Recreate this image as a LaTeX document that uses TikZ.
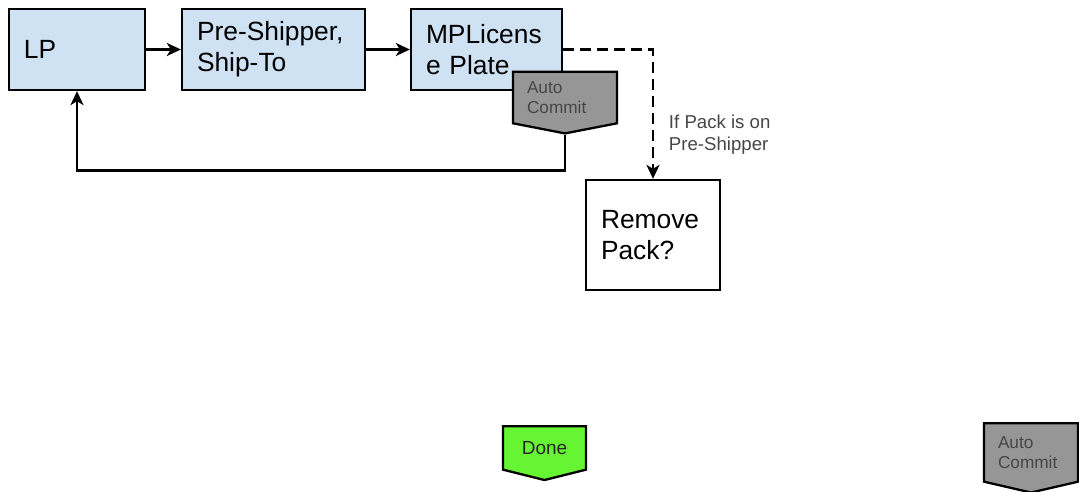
\documentclass[tikz,border=0pt]{standalone}
\usepackage{fontspec}
\setmainfont{Liberation Sans}
\usepackage{tikz}
\usetikzlibrary{shapes.symbols,arrows.meta,positioning,calc}
\usepackage{xcolor}
\definecolor{boxblue}{RGB}{207,226,243}
\definecolor{tagfill}{RGB}{150,150,150}
\definecolor{donegreen}{RGB}{102,245,51}
\definecolor{textgrey}{RGB}{70,70,70}

\begin{document}
\begin{tikzpicture}[
    box/.style={rectangle, draw=black, line width=1.3pt, fill=boxblue,
        minimum height=1.62cm, inner xsep=0.3cm, inner ysep=0pt,
        font=\fontsize{15}{17.6}\selectfont, align=left},
    tag/.style={signal, signal to=south, signal from=nowhere, draw=black,
        line width=1.3pt, fill=tagfill, inner sep=0pt,
        font=\fontsize{9.8}{11.4}\selectfont, text=textgrey, align=left},
    arr/.style={-{Stealth[length=2.8mm, width=2.6mm, inset=0.8mm]}, line width=1.4pt},
    lbl/.style={font=\fontsize{10.6}{12.6}\selectfont, text=textgrey, inner sep=1pt, align=left}
]
    \useasboundingbox (0,0) rectangle (21.58,9.84);

    % === Top row ===
    \node[box, text width=2.12cm] (lp) at (1.54,8.85) {LP};
    \node[box, text width=3.06cm] (preship) at (5.47,8.85) {Pre-Shipper,\\Ship-To};
    \node[box, text width=2.42cm] (mplate) at (9.73,8.85) {MPLicens\\e Plate};
    \node[tag, minimum width=2.08cm, minimum height=1.18cm, signal pointer angle=158,
        text width=1.52cm] (commit) at (11.30,7.89) {Auto\\Commit};

    \draw[arr] (lp) -- (preship);
    \draw[arr] (preship) -- (mplate);

    % Loop back to LP
    \draw[arr] (commit.south) -- ++(0,-0.72) -| (lp.south);

    % === Remove pack branch ===
    \node[box, fill=white, text width=2.08cm, minimum height=2.2cm] (remove) at (13.06,5.14) {Remove\\Pack?};

    \draw[arr, dash pattern=on 0.22cm off 0.12cm] (mplate.east) -| (remove.north)
        node[lbl, anchor=west, pos=0.83, xshift=0.26cm] {If Pack is on\\Pre-Shipper};

    % === Bottom row ===
    \node[tag, fill=donegreen, text=black!85, minimum width=1.66cm, minimum height=0.98cm,
        signal pointer angle=152, font=\fontsize{10.8}{12.6}\selectfont] (done) at (10.89,0.88) {Done};
    \node[tag, minimum width=1.88cm, minimum height=1.32cm, signal pointer angle=154,
        text width=1.32cm] (commitb) at (20.62,0.79) {Auto\\Commit};
\end{tikzpicture}
\end{document}
